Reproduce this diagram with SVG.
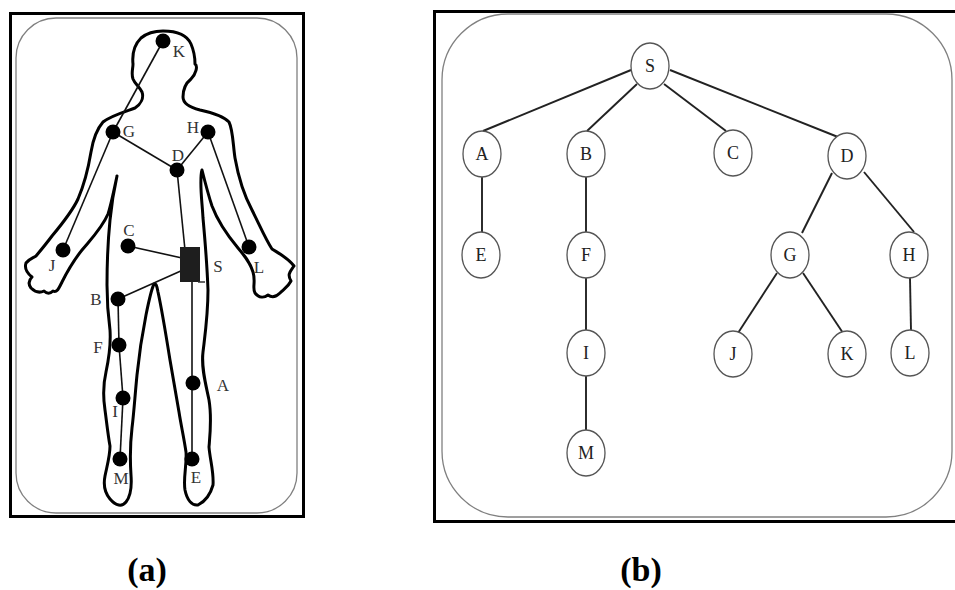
<svg xmlns="http://www.w3.org/2000/svg" width="955" height="590" viewBox="0 0 955 590">
<style>
.frame{fill:none;stroke:#000;stroke-width:3}
.inner{fill:none;stroke:#808080;stroke-width:1.3}
.body{fill:none;stroke:#000;stroke-width:3;stroke-linejoin:round;stroke-linecap:round}
.wire{stroke:#111;stroke-width:1.6;fill:none}
.dot{fill:#000}
.lab{font-family:"Liberation Serif","Times New Roman",serif;font-size:17px;fill:#333;text-anchor:middle}
.nd{fill:#fff;stroke:#555;stroke-width:1.3}
.nt{font-family:"Liberation Serif","Times New Roman",serif;font-size:18px;fill:#222;text-anchor:middle}
.edge{stroke:#222;stroke-width:1.9;fill:none}
.cap{font-family:"Liberation Serif","Times New Roman",serif;font-size:34px;font-weight:bold;fill:#000;text-anchor:middle}
</style>

<!-- Panel (a) -->
<g id="panel-a">
<rect class="frame" x="10.5" y="13.5" width="293" height="503"/>
<rect class="inner" x="16" y="18" width="281" height="495" rx="40" ry="40"/>
<path id="body-outline" class="body" d="M163,31 C176,31 187,35 191,44 C194,51 195,58 195,64 C198,66 196,74 191,79 C186,83 183,90 183,97 C183,103 188,107 200,110 C214,113 224,117 229,122 C233,130 233,145 235,158 C238,175 244,195 252,210 C260,226 266,240 272,249 C280,254 288,258 294,266 C290,272 287,274 291,281 C288,287 284,289 280,293 C276,297 272,298 268,295 C264,298 259,298 255,293 C252,288 256,282 253,272 C250,262 244,255 238,248 C228,236 218,222 212,206 C208,194 205,182 202,170 C199,180 202,200 203,218 C205,240 207,262 208,290 C208,315 205,335 203,352 C201,368 206,385 209,400 C212,418 210,435 209,447 C210,460 214,472 213,485 C210,496 204,502 198,505 C192,506 187,500 185,490 C183,478 187,465 186,452 C184,438 181,425 179,412 C176,395 173,378 170,360 C166,335 162,310 158,292 C157,286 156,283 154,284 C151,290 149,300 146,315 C142,335 139,355 137,375 C135,395 134,412 132,428 C130,445 130,460 131,475 C132,488 130,497 126,502 C122,507 116,506 110,499 C105,493 103,486 105,476 C107,466 110,456 110,446 C108,435 107,425 105,410 C103,397 103,385 106,372 C109,358 111,345 110,330 C108,315 107,300 107,285 C107,262 108,240 110,220 C112,200 115,185 117,176 C114,190 111,205 108,214 C102,228 92,238 82,250 C74,260 68,270 62,282 C59,288 57,293 53,291 C50,294 47,294 44,291 C40,293 35,292 31,288 C28,284 29,280 32,277 C27,273 24,269 26,263 C29,259 33,258 36,256 C41,250 46,244 52,236 C62,224 72,212 78,199 C84,185 88,170 91,152 C93,140 96,130 103,122 C110,116 124,112 135,108 C141,104 144,98 142,92 C139,86 135,84 133,79 C131,73 133,69 133,64 C132,54 135,44 141,38 C147,33 155,31 163,31 Z"/>
</g>

<g id="body-connectors">
<line class="wire" x1="163" y1="41" x2="113" y2="132"/>
<line class="wire" x1="113" y1="132" x2="63" y2="250"/>
<line class="wire" x1="113" y1="132" x2="177" y2="170"/>
<line class="wire" x1="208" y1="132" x2="177" y2="170"/>
<line class="wire" x1="208" y1="132" x2="249" y2="247"/>
<line class="wire" x1="177" y1="170" x2="185" y2="250"/>
<line class="wire" x1="128" y1="246" x2="182" y2="258"/>
<line class="wire" x1="183" y1="270" x2="118" y2="299"/>
<line class="wire" x1="192" y1="282" x2="192" y2="459"/>
<line class="wire" x1="118" y1="299" x2="119" y2="345"/>
<line class="wire" x1="119" y1="345" x2="123" y2="398"/>
<line class="wire" x1="123" y1="398" x2="120" y2="459"/>
</g>

<g id="sensor-K"><circle class="dot" cx="163" cy="41" r="7.5"/><text class="lab" x="179" y="57">K</text></g>
<g id="sensor-G"><circle class="dot" cx="113" cy="132" r="7.5"/><text class="lab" x="129" y="137">G</text></g>
<g id="sensor-H"><circle class="dot" cx="208" cy="132" r="7.5"/><text class="lab" x="193" y="133">H</text></g>
<g id="sensor-D"><circle class="dot" cx="177" cy="170" r="7.5"/><text class="lab" x="178" y="161">D</text></g>
<g id="sensor-C"><circle class="dot" cx="128" cy="246" r="7.5"/><text class="lab" x="129" y="236">C</text></g>
<g id="sensor-J"><circle class="dot" cx="63" cy="250" r="7.5"/><text class="lab" x="52" y="271">J</text></g>
<g id="sensor-L"><circle class="dot" cx="249" cy="247" r="7.5"/><text class="lab" x="259" y="273">L</text></g>
<g id="sink-S"><rect x="180" y="247" width="20" height="35" fill="#1e1e1e"/><line x1="198" y1="282" x2="205" y2="282" stroke="#333" stroke-width="1.5"/><text class="lab" x="218" y="272">S</text></g>
<g id="sensor-B"><circle class="dot" cx="118" cy="299" r="7.5"/><text class="lab" x="96" y="305">B</text></g>
<g id="sensor-F"><circle class="dot" cx="119" cy="345" r="7.5"/><text class="lab" x="98" y="353">F</text></g>
<g id="sensor-I"><circle class="dot" cx="123" cy="398" r="7.5"/><text class="lab" x="115" y="417">I</text></g>
<g id="sensor-M"><circle class="dot" cx="120" cy="459" r="7.5"/><text class="lab" x="121" y="484">M</text></g>
<g id="sensor-A"><circle class="dot" cx="193" cy="383" r="7.5"/><text class="lab" x="223" y="391">A</text></g>
<g id="sensor-E"><circle class="dot" cx="192" cy="459" r="7.5"/><text class="lab" x="196" y="483">E</text></g>

<!-- Panel (b) -->
<g id="panel-b">
<rect class="frame" x="434.5" y="11.5" width="530" height="510"/>
<rect class="inner" x="442" y="14" width="510" height="503" rx="66" ry="66"/>
</g>

<g id="tree-edges">
<line class="edge" x1="631" y1="70" x2="483" y2="131"/>
<line class="edge" x1="637" y1="84" x2="587" y2="131"/>
<line class="edge" x1="664" y1="84" x2="726" y2="131"/>
<line class="edge" x1="670" y1="70" x2="838" y2="137"/>
<line class="edge" x1="482" y1="177" x2="482" y2="232"/>
<line class="edge" x1="586" y1="177" x2="586" y2="232"/>
<line class="edge" x1="586" y1="278" x2="586" y2="330"/>
<line class="edge" x1="586" y1="376" x2="586" y2="431"/>
<line class="edge" x1="832" y1="173" x2="802" y2="233"/>
<line class="edge" x1="864" y1="172" x2="914" y2="232"/>
<line class="edge" x1="777" y1="273" x2="738" y2="333"/>
<line class="edge" x1="803" y1="273" x2="843" y2="333"/>
<line class="edge" x1="910" y1="278" x2="911" y2="331"/>
</g>

<g id="node-S"><ellipse class="nd" cx="650" cy="66" rx="19" ry="23"/><text class="nt" x="650" y="72">S</text></g>
<g id="node-A"><ellipse class="nd" cx="482" cy="154" rx="19" ry="23"/><text class="nt" x="482" y="160">A</text></g>
<g id="node-B"><ellipse class="nd" cx="586" cy="154" rx="19" ry="23"/><text class="nt" x="586" y="160">B</text></g>
<g id="node-C"><ellipse class="nd" cx="733" cy="153" rx="19" ry="23"/><text class="nt" x="733" y="159">C</text></g>
<g id="node-D"><ellipse class="nd" cx="847" cy="156" rx="19" ry="23"/><text class="nt" x="847" y="162">D</text></g>
<g id="node-E"><ellipse class="nd" cx="481" cy="255" rx="19" ry="23"/><text class="nt" x="481" y="261">E</text></g>
<g id="node-F"><ellipse class="nd" cx="586" cy="255" rx="19" ry="23"/><text class="nt" x="586" y="261">F</text></g>
<g id="node-G"><ellipse class="nd" cx="790" cy="255" rx="19" ry="23"/><text class="nt" x="790" y="261">G</text></g>
<g id="node-H"><ellipse class="nd" cx="909" cy="255" rx="19" ry="23"/><text class="nt" x="909" y="261">H</text></g>
<g id="node-I"><ellipse class="nd" cx="586" cy="353" rx="19" ry="23"/><text class="nt" x="586" y="359">I</text></g>
<g id="node-J"><ellipse class="nd" cx="733" cy="354" rx="19" ry="23"/><text class="nt" x="733" y="360">J</text></g>
<g id="node-K"><ellipse class="nd" cx="847" cy="354" rx="19" ry="23"/><text class="nt" x="847" y="360">K</text></g>
<g id="node-L"><ellipse class="nd" cx="910" cy="353" rx="19" ry="23"/><text class="nt" x="910" y="359">L</text></g>
<g id="node-M"><ellipse class="nd" cx="586" cy="453" rx="19" ry="23"/><text class="nt" x="586" y="459">M</text></g>

<text class="cap" x="147" y="581">(a)</text>
<text class="cap" x="641" y="581">(b)</text>
</svg>
